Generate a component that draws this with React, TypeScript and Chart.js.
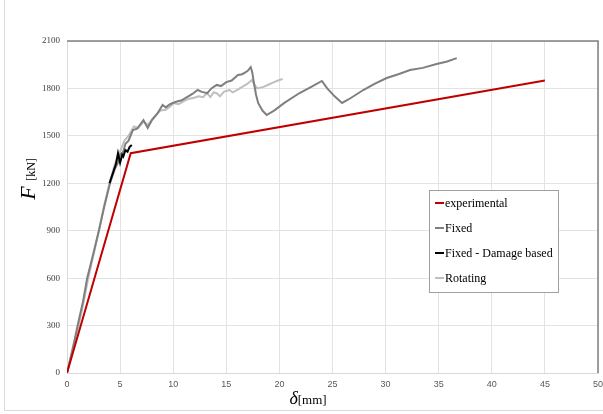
import { useEffect, useRef } from 'react';
import { Chart, registerables } from 'chart.js';

Chart.register(...registerables);

const seriesNames = ['experimental', 'Fixed', 'Fixed - Damage based', 'Rotating'];
const seriesColors = ['#c00000', '#7f7f7f', '#000000', '#bfbfbf'];

const experimentalX = [0, 6, 45];
const experimentalY = [0, 1390, 1850];

const fixedX = [0, 0.5, 1.0, 1.5, 1.9, 2.5, 3.0, 3.5, 4.05, 4.5, 4.8, 5.0, 5.3, 5.5, 5.8, 6.2, 6.6, 7.2, 7.6, 8.0, 8.5, 9.0, 9.3, 9.7, 10.2, 10.8, 11.3, 11.8, 12.3, 12.7, 13.2, 13.6, 14.1, 14.5, 15.0, 15.5, 16.1, 16.5, 17.0, 17.3, 17.45, 17.6, 17.8, 18.0, 18.4, 18.8, 19.5, 20.5, 21.9, 23.0, 24.0, 24.5, 25.2, 25.9, 26.5, 27.9, 29.0, 30.1, 31.2, 32.3, 33.5, 34.8, 35.8, 36.7];
const fixedY = [0, 140, 300, 450, 600, 760, 900, 1050, 1200, 1290, 1330, 1380, 1400, 1450, 1470, 1537, 1545, 1600, 1550, 1600, 1640, 1695, 1680, 1700, 1714, 1725, 1745, 1765, 1790, 1778, 1770, 1800, 1822, 1815, 1840, 1850, 1885, 1890, 1910, 1935, 1900, 1834, 1760, 1708, 1660, 1632, 1660, 1710, 1771, 1810, 1847, 1800, 1750, 1708, 1730, 1790, 1830, 1866, 1890, 1916, 1930, 1954, 1970, 1992];

const damageX = [4.0, 4.3, 4.6, 4.8, 4.9, 5.0, 5.2, 5.3, 5.5, 5.7, 5.9, 6.1];
const damageY = [1200, 1260, 1320, 1390, 1360, 1330, 1380, 1370, 1410, 1400, 1430, 1442];

const rotatingX = [0, 0.5, 1.1, 1.6, 2.0, 2.5, 3.0, 3.5, 4.0, 4.5, 5.0, 5.4, 5.8, 6.3, 6.7, 7.2, 7.6, 8.2, 8.8, 9.3, 9.8, 10.0, 10.5, 11.0, 11.5, 11.9, 12.4, 12.8, 13.2, 13.5, 13.8, 14.1, 14.4, 14.8, 15.3, 15.6, 16.0, 16.5, 17.0, 17.4, 17.6, 17.9, 18.5, 19.0, 19.5, 20.0, 20.3];
const rotatingY = [0, 150, 300, 460, 600, 750, 900, 1060, 1200, 1320, 1400, 1470, 1500, 1560, 1550, 1590, 1570, 1620, 1660, 1665, 1690, 1708, 1700, 1720, 1735, 1740, 1750, 1745, 1770, 1745, 1775, 1770, 1750, 1780, 1790, 1775, 1790, 1810, 1830, 1853, 1830, 1800, 1810, 1825, 1840, 1853, 1860];

const xMin = 0, xMax = 50, xStep = 5;
const yMin = 0, yMax = 2100, yStep = 300;

const toPoints = (xs: number[], ys: number[]) => xs.map((x, i) => ({ x, y: ys[i] }));

const decorPlugin = {
  id: 'decor',
  afterDraw(chart: any) {
    const ctx = chart.ctx as CanvasRenderingContext2D;
    const { left, top, right, bottom } = chart.chartArea;
    ctx.save();
    // plot area top/right border
    ctx.strokeStyle = '#808080';
    ctx.lineWidth = 1.5;
    ctx.beginPath();
    ctx.moveTo(left, top);
    ctx.lineTo(right, top);
    ctx.lineTo(right, bottom);
    ctx.stroke();
    // outer frame
    ctx.strokeStyle = '#d9d9d9';
    ctx.lineWidth = 1;
    ctx.beginPath();
    ctx.moveTo(4.5, 0);
    ctx.lineTo(4.5, 410.5);
    ctx.lineTo(603, 410.5);
    ctx.stroke();

    // x title
    ctx.fillStyle = '#000';
    ctx.textBaseline = 'alphabetic';
    ctx.textAlign = 'left';
    const f1 = 'italic 18px "Liberation Serif", "Times New Roman", serif';
    const f2 = '13px "Liberation Serif", "Times New Roman", serif';
    ctx.font = f1;
    const w1 = ctx.measureText('δ').width;
    ctx.font = f2;
    const w2 = ctx.measureText('[mm]').width;
    const sx = 308 - (w1 + w2) / 2;
    ctx.font = f1;
    ctx.fillText('δ', sx, 404);
    ctx.font = f2;
    ctx.fillText('[mm]', sx + w1, 404);

    // y title
    ctx.save();
    ctx.translate(35, 179);
    ctx.rotate(-Math.PI / 2);
    const g1 = 'italic 22px "Liberation Serif", "Times New Roman", serif';
    const g2 = '12px "Liberation Serif", "Times New Roman", serif';
    ctx.font = g1;
    const v1 = ctx.measureText('F ').width;
    ctx.font = g2;
    const v2 = ctx.measureText('[kN]').width;
    const vx = -(v1 + v2) / 2;
    ctx.font = g1;
    ctx.fillText('F ', vx, 0);
    ctx.font = g2;
    ctx.fillText('[kN]', vx + v1, 0);
    ctx.restore();

    // legend
    const bx = 429.5, by = 190.5, bw = 129, bh = 102;
    ctx.fillStyle = '#ffffff';
    ctx.fillRect(bx, by, bw, bh);
    ctx.strokeStyle = '#a0a0a0';
    ctx.lineWidth = 1;
    ctx.strokeRect(bx, by, bw, bh);
    ctx.font = '12px "Liberation Serif", "Times New Roman", serif';
    ctx.textBaseline = 'middle';
    seriesNames.forEach((name, i) => {
      const y = 203 + i * 25;
      ctx.strokeStyle = seriesColors[i];
      ctx.lineWidth = 2;
      ctx.beginPath();
      ctx.moveTo(435, y);
      ctx.lineTo(444, y);
      ctx.stroke();
      ctx.fillStyle = '#000';
      ctx.fillText(name, 445, y + 0.5);
    });
    ctx.restore();
  },
};

export default function App() {
  const ref = useRef<HTMLCanvasElement | null>(null);
  useEffect(() => {
    if (!ref.current) return;
    const mk = (i: number, xs: number[], ys: number[]) => ({
      label: seriesNames[i],
      data: toPoints(xs, ys),
      borderColor: seriesColors[i],
      backgroundColor: seriesColors[i],
      borderWidth: 2,
      pointRadius: 0,
      tension: 0,
      fill: false,
    });
    const chart = new Chart(ref.current, {
      type: 'line',
      data: {
        datasets: [
          mk(0, experimentalX, experimentalY),
          mk(2, damageX, damageY),
          mk(1, fixedX, fixedY),
          mk(3, rotatingX, rotatingY),
        ],
      },
      options: {
        animation: false,
        responsive: false,
        maintainAspectRatio: false,
        layout: { padding: { left: 0, top: 41, right: 5, bottom: 0 } },
        plugins: { legend: { display: false }, tooltip: { enabled: false } },
        scales: {
          x: {
            type: 'linear',
            min: xMin,
            max: xMax,
            afterFit: (s: any) => { s.height = 41; s.paddingLeft = 0; s.paddingRight = 0; },
            ticks: {
              stepSize: xStep,
              color: '#595959',
              padding: 6,
              maxRotation: 0,
              callback: (v: any) => String(v),
              font: { family: '"Liberation Sans", Arial, sans-serif', size: 9 },
            },
            grid: { color: '#e3e3e3', drawTicks: false, lineWidth: 1 },
            border: { color: '#d9d9d9', width: 1 },
          },
          y: {
            type: 'linear',
            min: yMin,
            max: yMax,
            afterFit: (s: any) => { s.width = 67; s.paddingTop = 0; s.paddingBottom = 0; },
            ticks: {
              stepSize: yStep,
              color: '#404040',
              padding: 7,
              callback: (v: any) => String(v),
              font: { family: '"Liberation Serif", "Times New Roman", serif', size: 9 },
            },
            grid: { color: '#e3e3e3', drawTicks: false, lineWidth: 1 },
            border: { color: '#d9d9d9', width: 1 },
          },
        },
      },
      plugins: [decorPlugin],
    });
    return () => chart.destroy();
  }, []);
  return (
    <div style={{ position: 'absolute', left: 0, top: 0, width: 603, height: 414, background: '#fff' }}>
      <canvas ref={ref} width={603} height={414} style={{ width: 603, height: 414, display: 'block' }} />
    </div>
  );
}
